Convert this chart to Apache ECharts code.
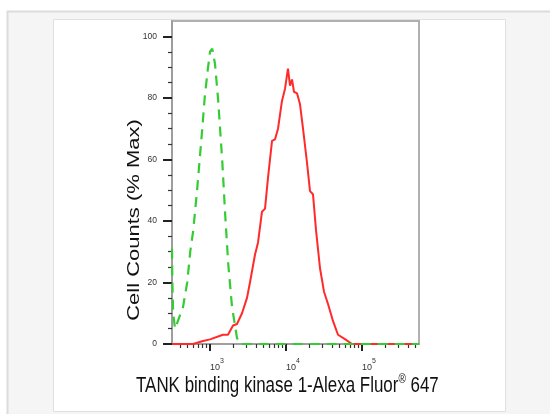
<!DOCTYPE html>
<html><head><meta charset="utf-8">
<script src="https://cdn.jsdelivr.net/npm/echarts@6/dist/echarts.min.js"></script>
<style>html,body{margin:0;padding:0;background:#fff}#c{width:550px;height:414px}</style>
</head><body><div id="c"></div><script>
// axis extents (x in log10 of fluorescence intensity)
const xMin = 2.5, xMax = 5.75;
const yMin = 0, yMax = 105;
const xMajorTicks = [3, 4, 5];
const xMinorMultipliers = [2, 3, 4, 5, 6, 7, 8, 9];
const yMajorTicks = [0, 20, 40, 60, 80, 100];
const yMinorTicks = [5, 10, 15, 25, 30, 35, 45, 50, 55, 65, 70, 75, 85, 90, 95];

// isotype control (green dashed)
const isoLog = [2.50, 2.505, 2.515, 2.54, 2.60, 2.645, 2.70, 2.74, 2.78, 2.83, 2.895, 2.93, 2.97, 3.00, 3.03, 3.066, 3.105, 3.16, 3.20, 3.24, 3.29, 3.355, 3.39, 3.7, 4.0, 4.5, 5.0, 5.75];
const isoVal = [31, 20, 10, 5, 9, 12, 20, 30, 37, 50, 69, 80, 89, 95, 96, 91, 80, 60, 42, 26, 12, 2, 0, 0, 0, 0, 0, 0];

// TBK1 sample (red solid)
const smpLog = [2.50, 2.776, 2.908, 3.0, 3.171, 3.237, 3.303, 3.355, 3.421, 3.487, 3.526, 3.592, 3.632, 3.684, 3.724, 3.763, 3.816, 3.855, 3.895, 3.947, 3.987, 4.026, 4.053, 4.079, 4.105, 4.145, 4.184, 4.224, 4.25, 4.276, 4.316, 4.355, 4.395, 4.447, 4.5, 4.553, 4.618, 4.684, 4.776, 4.868, 5.2, 5.75];
const smpVal = [0, 0, 1, 1.5, 3, 3, 6, 6.5, 10, 15, 20, 29, 33, 43, 44, 54, 66, 66.5, 70, 79, 83, 89.5, 84, 86, 82, 81.5, 78, 70, 70, 59, 49.7, 48.7, 37, 24.7, 17, 13, 7.5, 3, 1.6, 0, 0, 0];

const xMinorTicks = [];
for (let d = 2; d <= 5; d++) {
  for (const k of xMinorMultipliers) {
    const v = d + Math.log10(k);
    if (v > xMin && v < xMax) xMinorTicks.push(v);
  }
}

const chart = echarts.init(document.getElementById('c'), null, {renderer: 'canvas'});
const narrow = '"Liberation Sans Narrow", "Arial Narrow", "Liberation Sans", Arial, sans-serif';
const option = {
  backgroundColor: '#fff',
  animation: false,
  graphic: [
    {type: 'rect', z: -10, shape: {x: 7.5, y: 11.5, width: 560, height: 420}, style: {fill: '#f5f5f5', stroke: '#dcdcdc', lineWidth: 2}},
    {type: 'rect', z: -9, shape: {x: 53.5, y: 19.5, width: 452, height: 392}, style: {fill: '#ffffff', stroke: '#e0e0e0', lineWidth: 1}},
    {type: 'text', z: 10, x: 134, y: 220, rotation: Math.PI / 2, scaleY: 0.78,
      style: {text: 'Cell Counts (% Max)', font: '22px "Liberation Sans", Arial, sans-serif', fill: '#111', align: 'center', verticalAlign: 'middle'}},
    {type: 'text', z: 10, x: 136, y: 385, scaleX: 0.77,
      style: {text: '{a|TANK binding kinase 1-Alexa Fluor}{r|®}{a| 647}', align: 'left', verticalAlign: 'middle', fill: '#111',
        rich: {a: {fontSize: 22, fontFamily: '"Liberation Sans", Arial, sans-serif', lineHeight: 24, verticalAlign: 'bottom', fill: '#111'},
               r: {fontSize: 13, fontFamily: '"Liberation Sans", Arial, sans-serif', lineHeight: 24, verticalAlign: 'top', fill: '#111'}}}}
  ],
  grid: {left: 172, top: 21, right: 131, bottom: 70, show: true, borderColor: '#b0b0b0', borderWidth: 2, backgroundColor: 'transparent'},
  xAxis: [
    {type: 'value', min: xMin, max: xMax, position: 'bottom',
      axisLine: {show: true, onZero: false, lineStyle: {color: '#999', width: 1.5}},
      axisTick: {show: true, customValues: xMajorTicks, length: 7, lineStyle: {color: '#222', width: 2}},
      axisLabel: {customValues: xMajorTicks, margin: 14, align: 'left',
        formatter: v => '{b|10}{s|' + Math.round(v) + '}',
        rich: {b: {fontSize: 9, fontFamily: narrow, color: '#333', lineHeight: 14, verticalAlign: 'bottom'},
               s: {fontSize: 7, fontFamily: narrow, color: '#333', lineHeight: 14, verticalAlign: 'top'}}},
      splitLine: {show: false}},
    {type: 'value', min: xMin, max: xMax, position: 'bottom',
      axisLine: {show: false, onZero: false},
      axisTick: {show: true, customValues: xMinorTicks, length: 4, lineStyle: {color: '#333', width: 1.2}},
      axisLabel: {show: false}, splitLine: {show: false}}
  ],
  yAxis: [
    {type: 'value', min: yMin, max: yMax, position: 'left',
      axisLine: {show: true, onZero: false, lineStyle: {color: '#999', width: 1.5}},
      axisTick: {show: true, customValues: yMajorTicks, length: 9, lineStyle: {color: '#222', width: 2}},
      axisLabel: {customValues: yMajorTicks, margin: 15, fontSize: 8.5, fontFamily: narrow, color: '#333'},
      splitLine: {show: false}},
    {type: 'value', min: yMin, max: yMax, position: 'left',
      axisLine: {show: false, onZero: false},
      axisTick: {show: true, customValues: yMinorTicks, length: 4, lineStyle: {color: '#333', width: 1.2}},
      axisLabel: {show: false}, splitLine: {show: false}}
  ],
  series: [
    {type: 'line', name: 'TBK1', xAxisIndex: 0, yAxisIndex: 0, showSymbol: false, smooth: false,
      data: smpLog.map((x, i) => [x, smpVal[i]]),
      lineStyle: {color: '#ff2a2a', width: 2}, z: 3},
    {type: 'line', name: 'Isotype', xAxisIndex: 0, yAxisIndex: 0, showSymbol: false, smooth: false,
      data: isoLog.map((x, i) => [x, isoVal[i]]),
      lineStyle: {color: '#33cc33', width: 2.2, type: [10, 7]}, z: 4}
  ]
};
chart.setOption(option);
</script></body></html>
